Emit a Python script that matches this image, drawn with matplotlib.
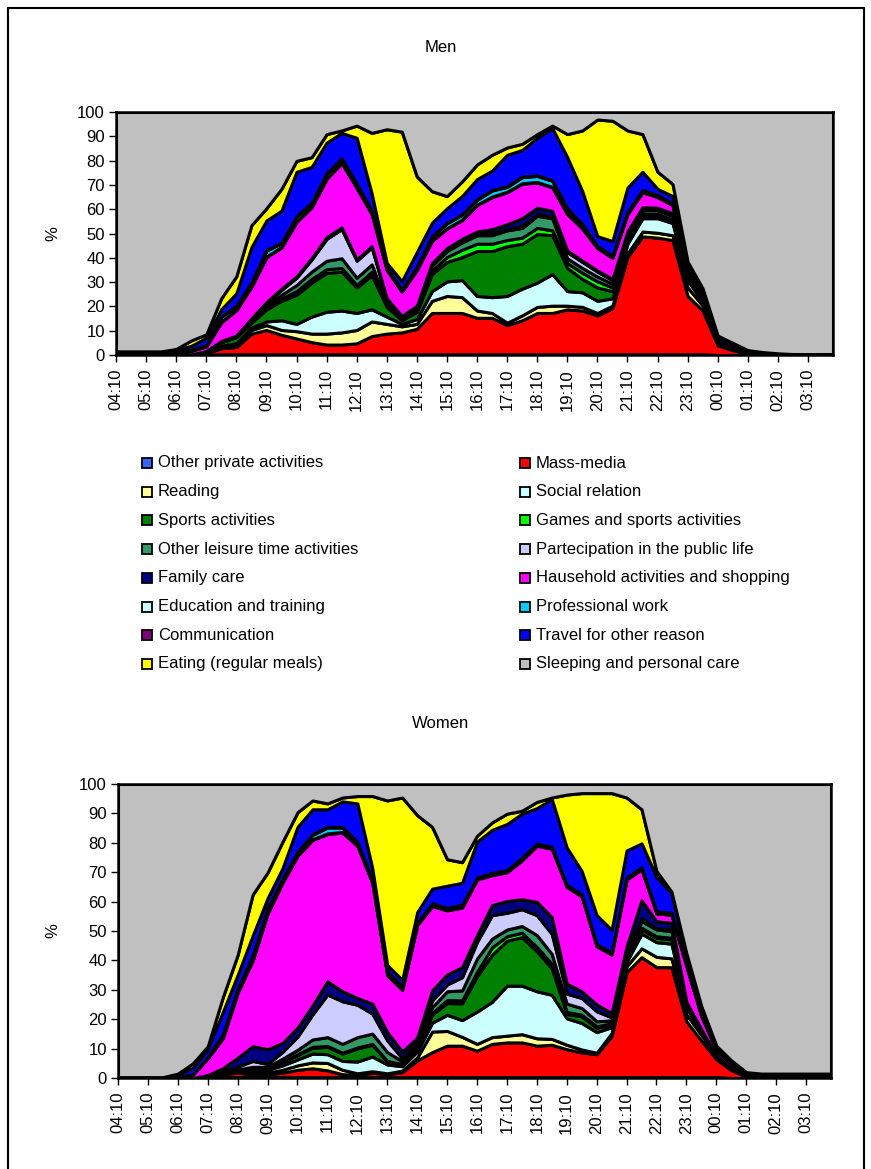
import numpy as np
import matplotlib.pyplot as plt
from matplotlib.patches import Rectangle

plt.rcParams['font.family'] = ['Liberation Sans', 'DejaVu Sans']

labels = ["Other private activities", "Mass-media", "Reading", "Social relation",
          "Sports activities", "Games and sports activities",
          "Other leisure time activities", "Partecipation in the public life",
          "Family care", "Hausehold activities and shopping", "Education and training",
          "Professional work", "Communication", "Travel for other reason",
          "Eating (regular meals)", "Sleeping and personal care"]
colors = ["#3366FF", "#FF0000", "#FFFF99", "#CCFFFF", "#008000", "#00FF00",
          "#339966", "#CCCCFF", "#000080", "#FF00FF", "#CCFFFF", "#00CCFF",
          "#800080", "#0000FF", "#FFFF00", "#C0C0C0"]

# half-hour readings, 04:10 .. 03:40 plus the last slot 04:00
times = [f"{(4 + (10 + 30 * i) // 60) % 24:02d}:{(10 + 30 * i) % 60:02d}" for i in range(48)] + ["04:00"]
hour_labels = [f"{(4 + h) % 24:02d}:10" for h in range(24)]

# ---------------- Men ----------------
men_other_private = [0, 0, 0, 0, 0, 0, 0.1, 0.3, 0.3, 0.3,
                     0.3, 0.3, 0.3, 0.3, 0.3, 0.3, 0.3, 0.3, 0.3, 0.3,
                     0.3, 0.3, 0.3, 0.3, 0.3, 0.3, 0.3, 0.3, 0.3, 0.3,
                     0.3, 0.3, 0.3, 0.3, 0.3, 0.3, 0.3, 0.3, 0.3, 0.3,
                     0, 0, 0, 0, 0, 0, 0, 0, 0]
men_mass_media = [0.2, 0.2, 0.2, 0.2, 0.2, 0.3, 0.7, 2.5, 3, 8.5,
                  10, 8, 6.5, 5, 4, 4, 4.5, 7.5, 8.5, 9,
                  10.5, 17, 17, 17, 15, 15, 12, 14, 17, 17,
                  18.5, 18, 16, 19, 40, 48.5, 48, 47, 24, 18,
                  4, 2, 0.5, 0.1, 0.1, 0.1, 0.1, 0.1, 0.1]
men_reading = [0, 0, 0, 0, 0, 0, 0.3, 0.5, 0.8, 1.5,
               2, 2, 3, 3.5, 4.5, 5, 5.5, 6, 4, 2.5,
               2, 5, 7, 6.5, 3, 2, 1, 2, 2.5, 3,
               1.5, 1.5, 1, 1, 1.5, 2, 2, 2, 3.5, 2,
               0.5, 0.3, 0, 0, 0, 0, 0, 0, 0]
men_social = [0, 0, 0, 0, 0, 0, 0, 0.5, 0.8, 1,
              1.5, 4, 3, 7, 9, 9, 7, 5, 3, 1,
              2, 4, 6, 7, 6, 6.5, 11, 11, 10, 13,
              6, 6, 5, 3, 4, 5.5, 6, 5, 3, 1.5,
              0.5, 0.2, 0, 0, 0, 0, 0, 0, 0]
men_sports = [0, 0, 0, 0, 0, 0, 0.5, 1.5, 2.5, 2,
              5, 8, 12, 14, 16, 16, 10.5, 14, 4, 1.5,
              3, 7, 8, 9.5, 18.5, 19, 20.5, 18.5, 20, 16,
              9.5, 5.5, 5.5, 3, 1.5, 1, 1, 1, 1, 0.5,
              0.2, 0, 0, 0, 0, 0, 0, 0, 0]
men_games = [0, 0, 0, 0, 0, 0, 0, 0, 0, 0.3,
             0.5, 1, 1.5, 1.5, 1.5, 1.5, 1, 1.5, 0.5, 0.3,
             0.5, 1.5, 2, 3, 3, 3, 2.5, 2.5, 2.5, 2,
             2, 2.5, 2.5, 1.5, 1, 1, 0.8, 0.5, 0.5, 0.3,
             0, 0, 0, 0, 0, 0, 0, 0, 0]
men_leisure = [0, 0, 0, 0, 0, 0, 0, 0, 0.3, 0.5,
               1, 1.5, 2.5, 3, 3.5, 4, 3, 3, 1, 0.5,
               1, 2, 2.5, 3, 3.5, 3.5, 4, 4, 5, 5,
               2, 2, 2, 1.5, 1.5, 1.5, 1.5, 1.5, 1, 0.5,
               0.2, 0, 0, 0, 0, 0, 0, 0, 0]
men_public = [0, 0, 0, 0, 0, 0, 0, 0, 0, 0.5,
              1, 2, 3, 5, 9, 12, 7, 7, 1.5, 0.5,
              0.5, 0.5, 0.5, 0.5, 0.5, 1, 0.5, 1, 0.8, 0.5,
              2.5, 2.5, 2, 1.5, 0.5, 0.5, 0.5, 0.5, 0.3, 0,
              0, 0, 0, 0, 0, 0, 0, 0, 0]
men_family = [0, 0, 0, 0, 0, 0, 0, 0.5, 0.3, 0.5,
              0.5, 0.5, 0.5, 0.5, 0.7, 0.7, 0.5, 0.5, 0.5, 0.5,
              0.5, 0.5, 0.7, 1, 1, 1.5, 2, 3, 2.5, 2.5,
              0.7, 0.5, 0.5, 0.5, 0.5, 0.5, 0.5, 0.5, 0.3, 0.2,
              0, 0, 0, 0, 0, 0, 0, 0, 0]
men_household = [0.3, 0.3, 0.3, 0.3, 0.8, 1.5, 2, 7.7, 10.5, 13,
                 18.5, 17, 22.5, 21, 24, 26.5, 29.5, 13.2, 11.7, 10,
                 14.7, 9.2, 8, 7.7, 10.9, 13.2, 13.2, 14.2, 10.4, 9.7,
                 15, 13.2, 9.2, 8.7, 7.2, 6.2, 4.4, 3.4, 0.5, 1,
                 0.5, 0.5, 0.3, 0.2, 0.1, 0.1, 0.1, 0.1, 0.1]
men_education = [0, 0, 0, 0, 0, 0, 0, 0.2, 0.2, 0.2,
                 0.2, 0.2, 0.2, 0.2, 0.2, 0.2, 0.2, 0.2, 0.2, 0.2,
                 0.2, 0.2, 0.2, 0.2, 0.2, 0.2, 0.2, 0.2, 0.2, 0.2,
                 0.2, 0.2, 0.2, 0.2, 0.2, 0.2, 0.2, 0.2, 0.2, 0.2,
                 0, 0, 0, 0, 0, 0, 0, 0, 0]
men_professional = [0.2, 0.2, 0.2, 0.2, 0.3, 0.5, 0.5, 2, 1.5, 1.5,
                    2.5, 1.5, 2, 1.5, 2, 1.5, 1.5, 1, 0.5, 0.5,
                    1, 1.5, 2, 2, 2, 2.5, 2, 2.5, 2.5, 2.5,
                    2, 1.5, 0.5, 0.5, 0.5, 0.5, 0.5, 0.3, 0.2, 0.2,
                    0.1, 0, 0, 0, 0, 0, 0, 0, 0]
men_communication = [0, 0, 0, 0, 0, 0, 0, 0.2, 0.2, 0.2,
                     0.2, 0.2, 0.2, 0.2, 0.2, 0.2, 0.2, 0.2, 0.2, 0.2,
                     0.2, 0.2, 0.2, 0.2, 0.2, 0.2, 0.2, 0.2, 0.2, 0.2,
                     0.2, 0.2, 0.2, 0.2, 0.2, 0.2, 0.2, 0.2, 0.2, 0.2,
                     0, 0, 0, 0, 0, 0, 0, 0, 0]
men_travel = [0.5, 0.5, 0.5, 0.5, 0.8, 1.5, 3, 3, 5, 14.4,
              12.2, 13.2, 18.2, 14.7, 12.5, 10.5, 18.7, 7, 2, 3.4,
              6, 5.5, 6, 7.5, 8.3, 8, 13, 11, 15.5, 21.5,
              21, 13.5, 4, 6, 10, 7.5, 2.5, 3, 1.4, 1.5,
              1.5, 1.5, 1, 0.7, 0.4, 0.2, 0.2, 0.2, 0.2]
men_eating = [0.3, 0.3, 0.3, 0.3, 0.4, 2.2, 1.4, 4.5, 7, 9,
              5, 9, 4.5, 4, 3.5, 1, 5, 25, 55, 61.5,
              31, 13, 5, 6, 6, 6.5, 3, 2.5, 1.5, 1,
              9.5, 25, 48, 49.5, 23.5, 15.5, 7, 5, 2, 1,
              0.5, 0.5, 0.2, 0.2, 0.1, 0, 0, 0, 0]

# ---------------- Women ----------------
women_other_private = [0, 0, 0, 0, 0, 0, 0, 0.3, 0.3, 0.3,
                       0.3, 0.3, 0.3, 0.3, 0.3, 0.3, 0.3, 0.3, 0.3, 0.3,
                       0.3, 0.3, 0.3, 0.3, 0.3, 0.3, 0.3, 0.3, 0.3, 0.3,
                       0.3, 0.3, 0.3, 0.3, 0.3, 0.3, 0.3, 0.3, 0.3, 0.3,
                       0.3, 0, 0, 0.2, 0.2, 0.2, 0.2, 0.2, 0.2]
women_mass_media = [0, 0, 0, 0, 0, 0, 0.5, 1, 1.5, 1,
                    1, 1.5, 2.5, 3, 2.3, 1, 0.8, 1.5, 1, 1.7,
                    5.7, 8.5, 10.7, 10.7, 9, 11.3, 11.8, 11.8, 10.7, 11,
                    9.5, 8.4, 7.8, 14, 35.7, 40.8, 37.4, 37.4, 19, 12.4,
                    6.1, 2.7, 0.5, 0, 0, 0, 0, 0, 0]
women_reading = [0, 0, 0, 0, 0, 0, 0, 0.2, 0.3, 0.5,
                 0.5, 1, 1.5, 2, 2.5, 1.5, 0.5, 0.5, 0.3, 0.5,
                 1, 7, 5, 3, 2.3, 2.3, 2.3, 2.8, 2.5, 2,
                 1.5, 1, 0.5, 1, 2, 3, 3.5, 3, 2.3, 2,
                 1, 0.5, 0, 0, 0, 0, 0, 0, 0]
women_social = [0, 0, 0, 0, 0, 0, 0, 0.3, 0.5, 1,
                1, 1.5, 2, 3, 3, 3, 4, 5, 3, 1.5,
                2, 3, 5.5, 5.7, 11, 12, 17, 16.5, 16, 15,
                9, 9, 7, 2, 1.5, 5, 5, 5, 2.3, 1,
                0.3, 0, 0, 0, 0, 0, 0, 0, 0]
women_sports = [0, 0, 0, 0, 0, 0, 0, 0, 0.3, 0.5,
                0.5, 1, 1.5, 2, 2.5, 2.5, 4.5, 4, 1, 0.5,
                1, 2.8, 4, 5.7, 12, 16, 15.3, 16.5, 13.6, 9,
                1.5, 2.3, 1.5, 1, 1, 1.5, 1.5, 1.5, 0.5, 0.2,
                0, 0, 0, 0, 0, 0, 0, 0, 0]
women_games = [0, 0, 0, 0, 0, 0, 0, 0, 0, 0,
               0, 0.3, 0.3, 0.3, 0.3, 0.3, 0.3, 0.3, 0.2, 0.2,
               0.2, 0.5, 1, 1, 1.5, 2.5, 1.5, 1.5, 1.5, 1.5,
               0.7, 0.5, 0.5, 0.3, 0.3, 0.5, 0.5, 0.5, 0.2, 0,
               0, 0, 0, 0, 0, 0, 0, 0, 0]
women_leisure = [0, 0, 0, 0, 0, 0, 0, 0, 0, 0.5,
                 0.5, 1, 1.5, 2.5, 3, 3, 3.5, 3.5, 3, 1,
                 1, 2, 3, 3.4, 4.5, 3, 2.3, 2.3, 4, 3.4,
                 2.8, 2.3, 1.7, 1, 1.5, 2.3, 2.3, 2.3, 0.5, 0.3,
                 0, 0, 0, 0, 0, 0, 0, 0, 0]
women_public = [0, 0, 0, 0, 0, 0, 0, 0.5, 1, 2,
                1, 2.3, 4.5, 8.5, 14.5, 14.5, 11, 6.8, 4, 1,
                1.5, 2.3, 2.3, 4.5, 5.7, 8, 5.7, 5.7, 6.8, 6.8,
                3.4, 3.4, 3.4, 1, 0.5, 1, 0.5, 0.5, 0.3, 0,
                0, 0, 0, 0, 0, 0, 0, 0, 0]
women_family = [0, 0, 0, 0, 0, 0, 0.5, 1, 3, 5,
                5, 3, 3, 3, 4.5, 3.4, 2.3, 3.4, 2.8, 2.3,
                1, 3.4, 3.4, 3.4, 2.3, 3.4, 4, 3.4, 4.5, 5.7,
                3.4, 2.3, 2.3, 1.5, 2, 6, 2.3, 2.3, 0.5, 0.3,
                0, 0, 0, 0, 0, 0, 0, 0, 0]
women_household = [0.1, 0.1, 0.1, 0.1, 0.5, 1.2, 5.8, 10.2, 22.1, 29.2,
                   46.2, 54.6, 58.5, 56.4, 50.1, 54, 51.8, 41.2, 19.4, 21,
                   38.3, 28.7, 21.8, 20.3, 18.9, 10.2, 9.8, 13.2, 19.1, 23.3,
                   32.9, 32.3, 19.8, 19.9, 22.7, 10.6, 2.7, 2.7, 12.1, 4.5,
                   1.8, 1.5, 0.7, 0.5, 0.5, 0.5, 0.5, 0.5, 0.5]
women_education = [0, 0, 0, 0, 0, 0, 0, 0.2, 0.2, 0.2,
                   0.2, 0.2, 0.2, 0.2, 0.2, 0.2, 0.2, 0.2, 0.2, 0.2,
                   0.2, 0.2, 0.2, 0.2, 0.2, 0.2, 0.2, 0.2, 0.2, 0.2,
                   0.2, 0.2, 0.2, 0.2, 0.2, 0.2, 0.2, 0.2, 0.2, 0.2,
                   0, 0, 0, 0, 0, 0, 0, 0, 0]
women_professional = [0, 0, 0, 0, 0, 0, 0.3, 1, 1, 1.5,
                      1.5, 1, 1, 1.5, 2, 1.5, 1, 0.5, 0.8, 0.8,
                      0.5, 0.5, 0.5, 0.5, 0.3, 0.3, 0.3, 0.5, 0.3, 0.3,
                      0.3, 0.3, 0.3, 0.3, 0.3, 0.3, 0.3, 0.3, 0.2, 0.1,
                      0, 0, 0, 0, 0, 0, 0, 0, 0]
women_communication = [0, 0, 0, 0, 0, 0, 0, 0.2, 0.2, 0.2,
                       0.2, 0.2, 0.2, 0.2, 0.2, 0.2, 0.2, 0.2, 0.2, 0.2,
                       0.2, 0.2, 0.2, 0.2, 0.2, 0.2, 0.2, 0.2, 0.2, 0.2,
                       0.2, 0.2, 0.2, 0.2, 0.2, 0.2, 0.2, 0.2, 0.2, 0.2,
                       0, 0, 0, 0, 0, 0, 0, 0, 0]
women_travel = [0.1, 0.1, 0.1, 0.1, 0.7, 2.3, 2.6, 7.5, 4.7, 6.5,
                3.3, 3.5, 8.4, 8.5, 6, 8.7, 13, 4, 2.2, 2.2,
                3.5, 5, 7.5, 7.5, 12.2, 14.7, 15.7, 15, 12.1, 16.2,
                12.7, 7.9, 9.9, 7.7, 9.2, 8.1, 11.7, 6.7, 1.8, 1.9,
                1.2, 1, 0.5, 0.5, 0.5, 0.5, 0.5, 0.5, 0.5]
women_eating = [0.1, 0.1, 0.1, 0.1, 0.3, 1.5, 1.1, 5, 6.8, 14,
                8.7, 9, 5, 3, 2, 1.3, 2.5, 24.5, 56, 62,
                33, 21, 9, 7, 2, 2.5, 3.5, 1, 2.1, 0.5,
                18, 26.5, 41.5, 46.5, 18, 11.6, 2, 0.5, 2, 1,
                0.3, 0.3, 0.3, 0.3, 0.3, 0.3, 0.3, 0.3, 0.3]

men = [men_other_private, men_mass_media, men_reading, men_social, men_sports,
       men_games, men_leisure, men_public, men_family, men_household,
       men_education, men_professional, men_communication, men_travel, men_eating]
women = [women_other_private, women_mass_media, women_reading, women_social,
         women_sports, women_games, women_leisure, women_public, women_family,
         women_household, women_education, women_professional,
         women_communication, women_travel, women_eating]


def slot(t):
    h, m = map(int, t.split(":"))
    return ((h * 60 + m) - 250) % 1440 / 10


x = np.array([slot(t) for t in times])

W, H = 871, 1169
FS = 12
fig = plt.figure(figsize=(W / 100, H / 100), dpi=100)


def fig_box(left, top, right, bottom):
    return [left / W, 1 - bottom / H, (right - left) / W, (bottom - top) / H]


def draw(ax, series, label_x):
    ys = [np.array(s, dtype=float) for s in series]
    # whatever is left of 100 % is sleeping and personal care
    rest = np.clip(100 - np.sum(ys, axis=0), 0, None)
    ax.stackplot(x, *ys, rest, colors=colors, edgecolor="black", linewidth=2.2)
    ax.set_xlim(0, 143)
    ax.set_ylim(0, 100)
    ax.set_xticks(range(0, 144, 6))
    ax.set_xticklabels(hour_labels, rotation=90, fontsize=FS)
    ax.set_yticks(range(0, 101, 10))
    ax.tick_params(axis="y", labelsize=FS, direction="out", length=5, width=1, pad=3)
    ax.tick_params(axis="x", direction="out", length=5, width=1, pad=5)
    ax.set_ylabel("%", fontsize=FS)
    ax.yaxis.set_label_coords(label_x, 0.5)
    for sp in ax.spines.values():
        sp.set_linewidth(1.8)
    ax.margins(0)


ax1 = fig.add_axes(fig_box(116, 112, 833, 355))
draw(ax1, men, -0.078)
fig.text(441 / W, 1 - 48 / H, "Men", ha="center", va="center", fontsize=FS)

ax2 = fig.add_axes(fig_box(118, 784, 831, 1078))
draw(ax2, women, -0.081)
fig.text(441 / W, 1 - 724 / H, "Women", ha="center", va="center", fontsize=FS)

# legend, laid out in two columns the way the spreadsheet does it
for i, (lab, col) in enumerate(zip(labels, colors)):
    row, c = divmod(i, 2)
    yc = 463 + 28.7 * row
    mx = 142 if c == 0 else 520
    fig.add_artist(Rectangle((mx / W, 1 - (yc + 5) / H), 10 / W, 10 / H,
                             transform=fig.transFigure, facecolor=col,
                             edgecolor="black", linewidth=1.3))
    fig.text((mx + 16) / W, 1 - yc / H, lab, ha="left", va="center", fontsize=FS)

# outer chart frame
fig.add_artist(Rectangle((8 / W, 1 - 1185 / H), 856 / W, 1177 / H,
                         transform=fig.transFigure, fill=False,
                         edgecolor="black", linewidth=1.5, clip_on=False))

fig.savefig("out.png", dpi=100)
